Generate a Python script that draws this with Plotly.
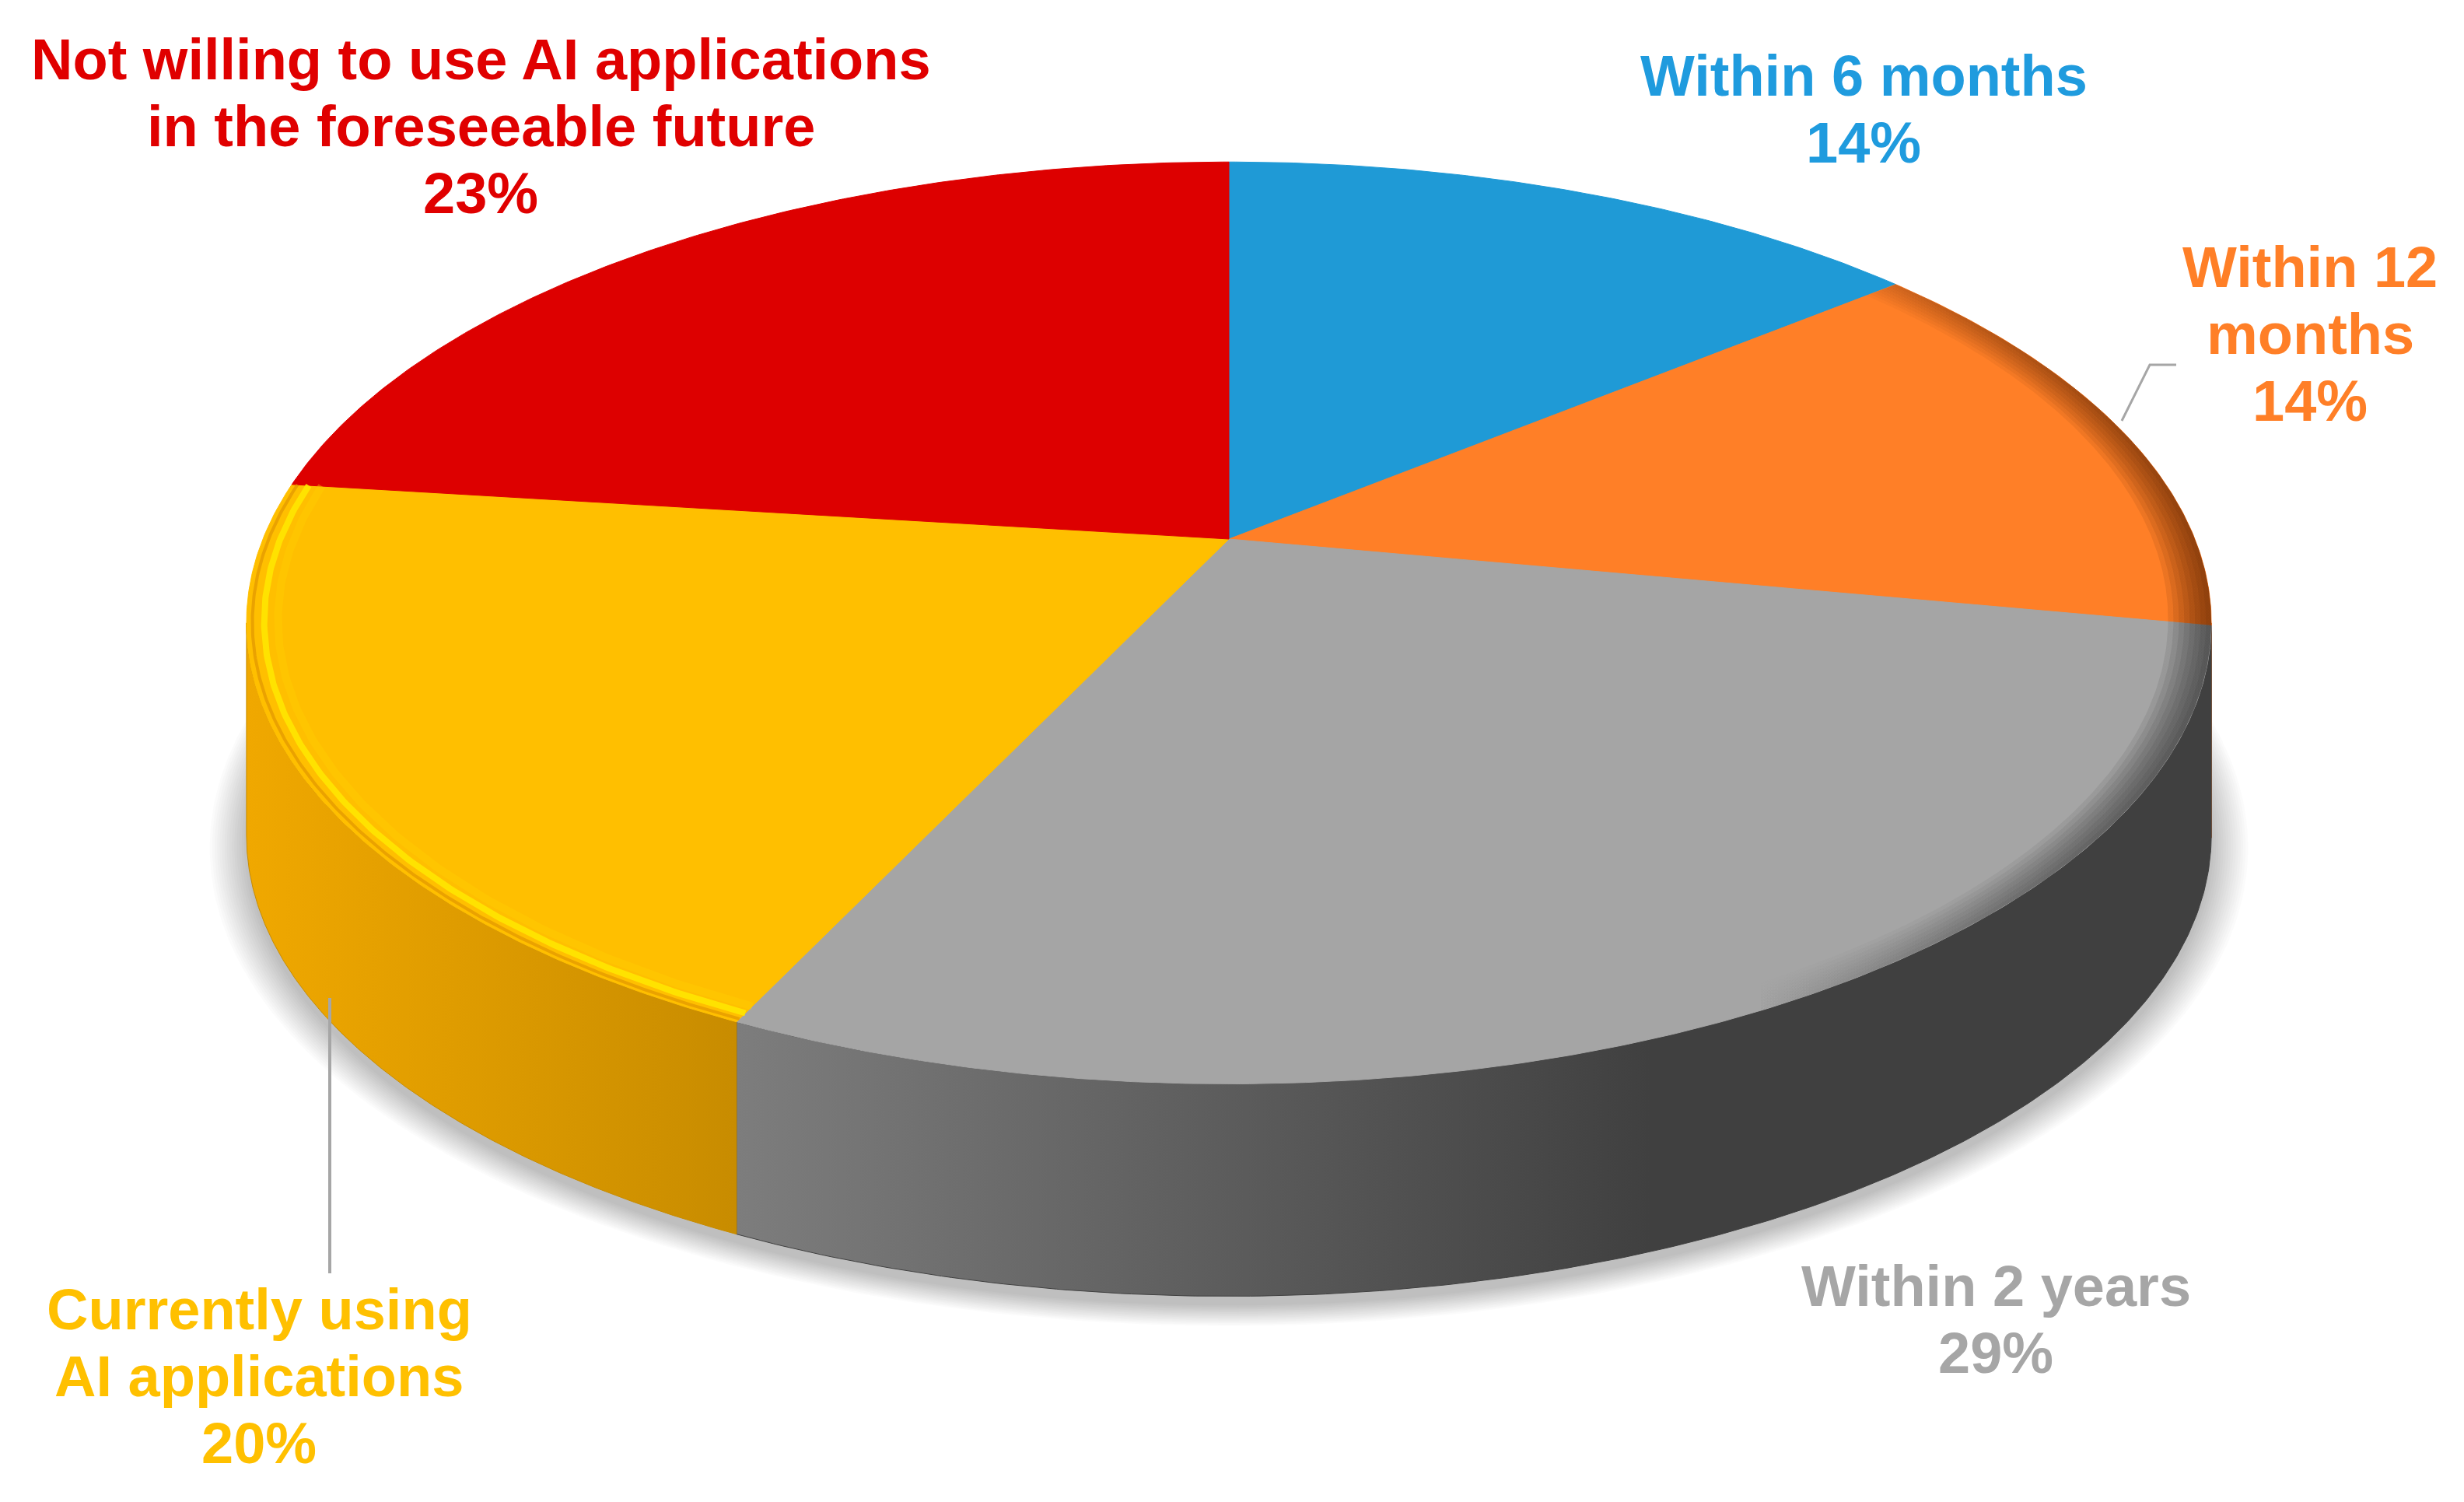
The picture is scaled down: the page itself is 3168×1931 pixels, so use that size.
import numpy as np
import plotly.graph_objects as go

# ---------------- data ----------------
categories = ["Within 6 months", "Within 12 months", "Within 2 years",
              "Currently using AI applications",
              "Not willing to use AI applications in the foreseeable future"]
values = [14, 14, 29, 20, 23]
pct_labels = ["14%", "14%", "29%", "20%", "23%"]
label_lines = [["Within 6 months"], ["Within 12", "months"], ["Within 2 years"],
               ["Currently using", "AI applications"],
               ["Not willing to use AI applications", "in the foreseeable future"]]

top_colors = ["#1F9AD6", "#FF7F27", "#A5A5A5", "#FFBF00", "#DD0000"]
side_colors = [("#1A80B5", "#156A96"), ("#D9661C", "#B85414"), ("#7D7D7D", "#404040"),
               ("#F0A800", "#C88C00"), ("#B80000", "#950000")]
rim_shade = [None, "90,35,0", "50,50,50", None, None]
label_colors = ["#1F9BDE", "#FF7F27", "#A6A6A6", "#FFC000", "#E00000"]

# ---------------- geometry (pixel space of the figure) ----------------
W, H = 3168, 1931
XC, YC = 1580, 693        # pie apex on screen
A, B, K = 1242, 573, 0.182  # perspective ellipse parameters
DEPTH = 273


def proj(phi, depth=0.0, scale=1.0, dx=0.0, dy=0.0):
    u = np.sin(phi)
    v = -np.cos(phi)
    w = 1 - K * v
    return XC + dx + scale * A * u / w, YC + dy + depth + scale * B * v / w


fig = go.Figure()

# ---------------- soft shadow ----------------
full = np.linspace(0, 2 * np.pi, 400)
for i in range(16):
    s = 1.0 + 0.0025 * i
    x, y = proj(full, depth=DEPTH, scale=s, dy=12)
    fig.add_trace(go.Scatter(x=x, y=y, mode="lines", fill="toself",
                             fillcolor="rgba(0,0,0,0.016)", line=dict(width=0),
                             hoverinfo="skip", showlegend=False))

# ---------------- slices ----------------
total = sum(values)
bounds = np.cumsum([0] + values) / total * 2 * np.pi
vis0 = np.arccos(-K)
vis1 = 2 * np.pi - vis0

# side walls
for i, cat in enumerate(categories):
    p0, p1 = bounds[i], bounds[i + 1]
    s0, s1 = max(p0, vis0), min(p1, vis1)
    if s1 <= s0:
        continue
    ph = np.linspace(s0, s1, 200)
    xt, yt = proj(ph)
    xb, yb = proj(ph[::-1], depth=DEPTH)
    xs = np.concatenate([xt, xb, xt[:1]])
    ys = np.concatenate([yt, yb, yt[:1]])
    c0, c1 = side_colors[i]
    lo, hi = float(xs.min()), float(xs.max())
    if i == 2:
        hi = lo + (hi - lo) * 0.62
    fig.add_trace(go.Scatter(x=xs, y=ys, mode="lines", fill="toself",
                             fillcolor=c1,
                             fillgradient=dict(type="horizontal",
                                               colorscale=[[0, c0], [1, c1]],
                                               start=lo, stop=hi),
                             line=dict(width=1, color=c1),
                             hoverinfo="skip", showlegend=False))

# top faces
for i, cat in enumerate(categories):
    p0, p1 = bounds[i], bounds[i + 1]
    ph = np.linspace(p0, p1, max(int(values[i] * 8), 30))
    xa, ya = proj(ph)
    xs = np.concatenate([[XC], xa, [XC]])
    ys = np.concatenate([[YC], ya, [YC]])
    fig.add_trace(go.Scatter(x=xs, y=ys, mode="lines", fill="toself",
                             fillcolor=top_colors[i],
                             line=dict(width=1, color=top_colors[i]),
                             name=cat, hoverinfo="name", showlegend=False))

# bevel: darkening of the rim on the right-hand side (soft bands)
xr = XC + A / np.sqrt(1 - K * K)
for i, cat in enumerate(categories):
    if rim_shade[i] is None:
        continue
    p0, p1 = bounds[i], bounds[i + 1]
    ph = np.linspace(p0, p1, 200)
    for j in range(8):
        sc = 1.0 - 0.0055 * (j + 1)
        xo, yo = proj(ph)
        xi, yi = proj(ph[::-1], scale=sc)
        xs = np.concatenate([xo, xi, xo[:1]])
        ys = np.concatenate([yo, yi, yo[:1]])
        fig.add_trace(go.Scatter(
            x=xs, y=ys, mode="lines", fill="toself", line=dict(width=0),
            fillcolor="rgba(%s,0.08)" % rim_shade[i],
            fillgradient=dict(type="horizontal",
                              colorscale=[[0, "rgba(%s,0)" % rim_shade[i]],
                                          [1, "rgba(%s,0.13)" % rim_shade[i]]],
                              start=2250, stop=xr),
            hoverinfo="skip", showlegend=False))

# bevel: bright highlight on the yellow rim
p0, p1 = bounds[3], bounds[4]
ph = np.linspace(p0, p1, 200)
for sc, col, wd in [(0.994, "rgba(225,150,0,0.7)", 4), (0.982, "rgba(255,230,0,0.9)", 8),
                    (0.968, "rgba(255,210,0,0.35)", 10)]:
    x, y = proj(ph, scale=sc)
    fig.add_trace(go.Scatter(x=x, y=y, mode="lines", line=dict(width=wd, color=col),
                             hoverinfo="skip", showlegend=False))

# ---------------- labels ----------------
label_pos = [(2396, 97), (2970, 343), (2566, 1653), (333, 1683), (618, 76)]
LINE = 86
for i, cat in enumerate(categories):
    lx, ly = label_pos[i]
    lines = label_lines[i] + [pct_labels[i]]
    for j, t in enumerate(lines):
        fig.add_annotation(x=lx, y=ly + j * LINE, xref="x", yref="y", text=t,
                           showarrow=False, xanchor="center", yanchor="middle",
                           font=dict(family="Liberation Sans, Arial", size=74,
                                     color=label_colors[i], weight="bold"))

# leader lines
fig.add_trace(go.Scatter(x=[2728, 2764, 2798], y=[541, 469, 469], mode="lines",
                         line=dict(color="#A6A6A6", width=3),
                         hoverinfo="skip", showlegend=False))
fig.add_trace(go.Scatter(x=[424, 424], y=[1283, 1637], mode="lines",
                         line=dict(color="#A6A6A6", width=4),
                         hoverinfo="skip", showlegend=False))

fig.update_layout(
    width=W, height=H, margin=dict(l=0, r=0, t=0, b=0),
    paper_bgcolor="white", plot_bgcolor="white",
    xaxis=dict(range=[0, W], visible=False, fixedrange=True),
    yaxis=dict(range=[H, 0], visible=False, fixedrange=True),
    showlegend=False,
)

fig.write_html("out.html", config={"displayModeBar": False},
               post_script="document.body.style.margin='0';document.body.style.overflow='hidden';")
